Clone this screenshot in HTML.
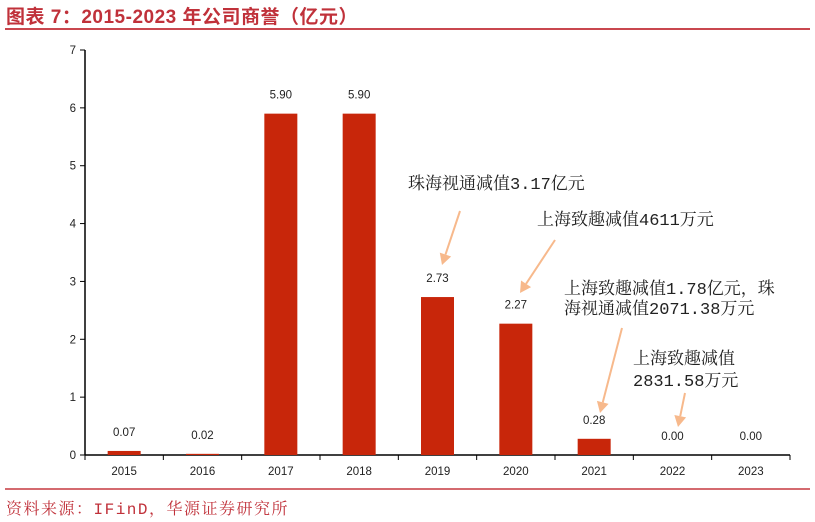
<!DOCTYPE html>
<html><head><meta charset="utf-8"><style>
body{margin:0;width:815px;height:522px;background:#fff;overflow:hidden;position:relative;font-family:"Liberation Sans",sans-serif}
.t{position:absolute;white-space:nowrap}
.ann{font-family:"Liberation Mono","Noto Serif CJK SC",serif;font-size:17px;color:#222;position:absolute;white-space:nowrap;line-height:20px}
</style></head><body>
<div class="t" style="left:6px;top:2px;font-size:19px;font-weight:bold;color:#c0313a;font-family:'Liberation Sans','Noto Sans CJK SC',sans-serif;letter-spacing:0.5px">图表 7：2015-2023 年公司商誉（亿元）</div>
<div style="position:absolute;left:5px;top:28px;width:805px;height:2px;background:#c9474f"></div>
<svg id="chart" width="815" height="522" style="position:absolute;left:0;top:0"></svg>
<div class="ann" style="left:408px;top:176px">珠海视通减值3.17亿元</div>
<div class="ann" style="left:537px;top:212px">上海致趣减值4611万元</div>
<div class="ann" style="left:564px;top:281px">上海致趣减值1.78亿元，珠<br>海视通减值2071.38万元</div>
<div class="ann" style="left:633px;top:350px;line-height:22px">上海致趣减值<br>2831.58万元</div>
<div style="position:absolute;left:5px;top:488px;width:805px;height:2px;background:#d46a6f"></div>
<div class="t" style="left:6px;top:496px;font-size:16px;letter-spacing:1.5px;color:#c0313a;font-family:'Liberation Mono','Noto Serif CJK SC',serif">资料来源：IFinD，华源证券研究所</div>
<script>
const categories=["2015","2016","2017","2018","2019","2020","2021","2022","2023"];
const values=[0.07,0.02,5.90,5.90,2.73,2.27,0.28,0.00,0.00];
const labels=["0.07","0.02","5.90","5.90","2.73","2.27","0.28","0.00","0.00"];
const yTicks=[0,1,2,3,4,5,6,7];
const arrows=[[460,211,442,265],[555,240,520,293],[622,328,600,413],[685,393,678,427]];
const NS="http://www.w3.org/2000/svg";
const svg=document.getElementById('chart');
const x0=85,x1=790,y0=455,y7=50;
const band=(x1-x0)/categories.length;
const y=v=>y0-(v/7)*(y0-y7);
const xc=i=>x0+band*(i+0.5);
function mk(t,a){const e=document.createElementNS(NS,t);for(const k in a)e.setAttribute(k,a[k]);svg.appendChild(e);return e;}
let ax=mk('line',{x1:x0,y1:y7,x2:x0,y2:y0,stroke:'#000','stroke-width':1.5});


let xa=mk('line',{x1:x0,y1:y0,x2:x1,y2:y0,stroke:'#000','stroke-width':1.5});


yTicks.forEach(v=>{
 mk('line',{x1:x0-5,y1:y(v),x2:x0,y2:y(v),stroke:'#000'});
 const t=mk('text',{x:x0-9,y:y(v)+4,'text-anchor':'end','font-size':11.5,fill:'#222'});
 t.textContent=v;
 
 
});
for(let i=0;i<=categories.length;i++)mk('line',{x1:x0+band*i,y1:y0,x2:x0+band*i,y2:y0+5,stroke:'#000'});
categories.forEach((c,i)=>{
 const bw=33,h=y0-y(values[i]);
 const r=mk('rect',{x:xc(i)-bw/2,y:y(values[i]),width:bw,height:h,fill:'#c8260a'});
 
 
 const l=mk('text',{x:xc(i),y:y(values[i])-15,'text-anchor':'middle','font-size':11.5,fill:'#222'});
 l.textContent=labels[i];
 
 
 const t=mk('text',{x:xc(i),y:y0+20,'text-anchor':'middle','font-size':11.5,fill:'#222'});
 t.textContent=c;
 
 
});
arrows.forEach(a=>{
 const [ax1,ay1,ax2,ay2]=a;
 const ang=Math.atan2(ay2-ay1,ax2-ax1),L=11,W=6;
 const bx=ax2-L*Math.cos(ang),by=ay2-L*Math.sin(ang);
 const ln=mk('line',{x1:ax1,y1:ay1,x2:bx,y2:by,stroke:'#f7b98c','stroke-width':2});
 
 
 const px=-Math.sin(ang)*W,py=Math.cos(ang)*W;
 mk('polygon',{points:`${ax2},${ay2} ${bx+px},${by+py} ${bx-px},${by-py}`,fill:'#f7b98c'});
});
</script>
</body></html>
